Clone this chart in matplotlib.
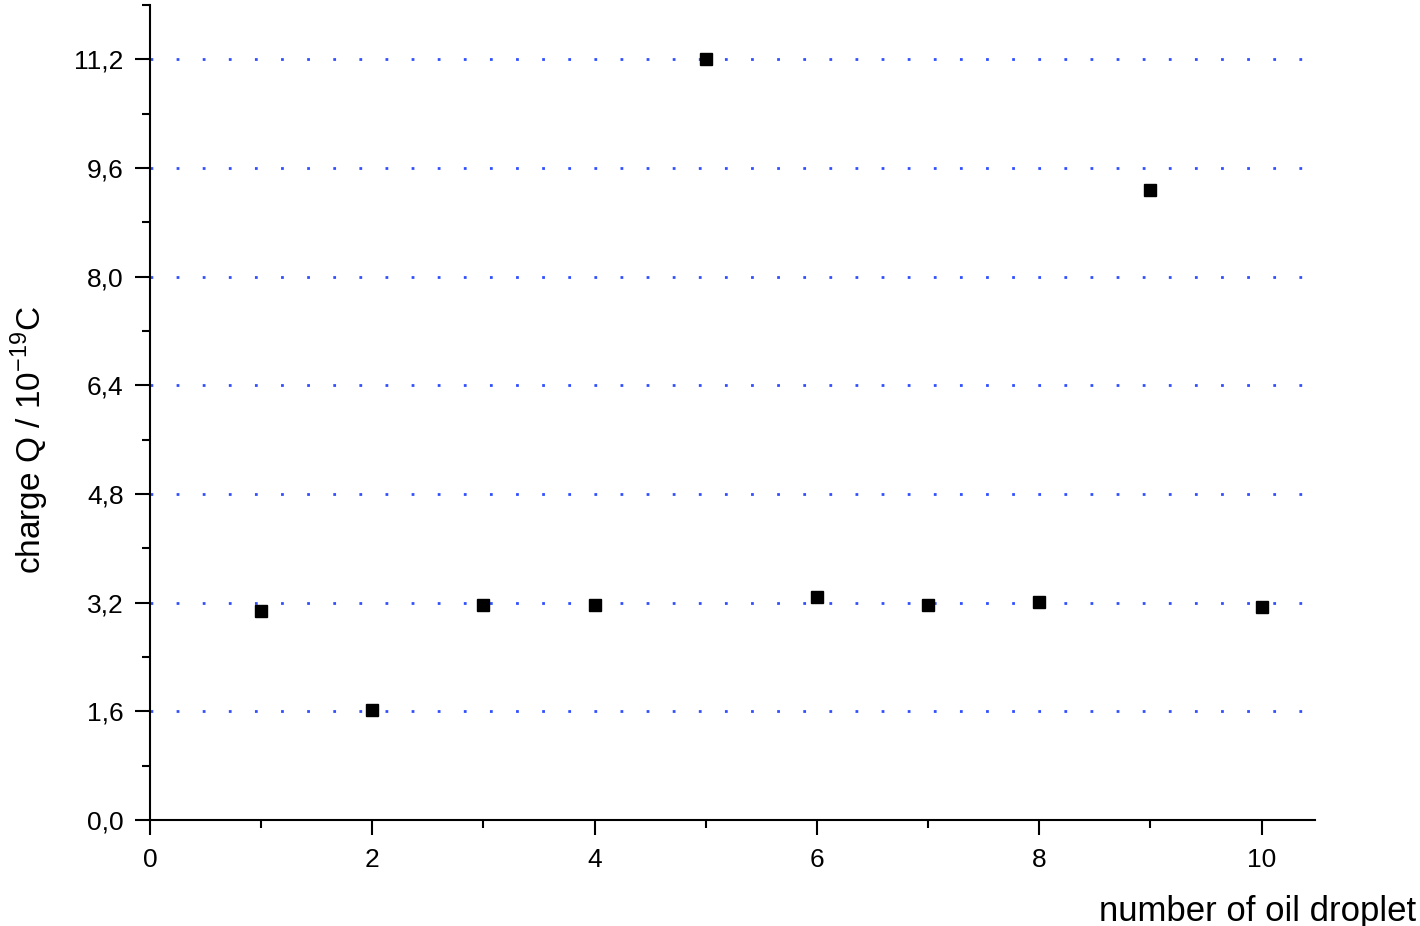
import numpy as np
import matplotlib
matplotlib.use('Agg')
import matplotlib.pyplot as plt
from matplotlib.ticker import MultipleLocator, FuncFormatter

droplet = [1, 2, 3, 4, 5, 6, 7, 8, 9, 10]
charge = [3.08, 1.62, 3.17, 3.17, 11.21, 3.29, 3.17, 3.21, 9.28, 3.14]
y_ticks = [0.0, 1.6, 3.2, 4.8, 6.4, 8.0, 9.6, 11.2]
x_ticks = [0, 2, 4, 6, 8, 10]

plt.rcParams['font.family'] = ['Liberation Sans', 'DejaVu Sans']
plt.rcParams['mathtext.fontset'] = 'custom'
plt.rcParams['mathtext.rm'] = 'Liberation Sans'

fig = plt.figure(figsize=(14.2, 9.26), dpi=100)
ax = fig.add_axes([150/1420, 106/926, 1165/1420, 815/926])

# grid lines at the major charge levels
ax.set_yticks(y_ticks)
ax.grid(axis='y', color='#3050ff', linewidth=2, linestyle=(0, (1, 8.4)))
ax.set_axisbelow(True)

ax.plot(droplet, charge, linestyle='none', marker='s', markersize=9,
        color='black', zorder=3)

ax.set_xlim(0, 10.48)
ax.set_ylim(0, 12)
ax.set_xticks(x_ticks)
ax.xaxis.set_minor_locator(MultipleLocator(1))
ax.yaxis.set_minor_locator(MultipleLocator(0.8))
ax.yaxis.set_major_formatter(FuncFormatter(lambda v, p: ('%.1f' % v).replace('.', ',')))

for s in ['top', 'right']:
    ax.spines[s].set_visible(False)
for s in ['left', 'bottom']:
    ax.spines[s].set_linewidth(1.5)

ax.tick_params(which='major', direction='out', length=11, width=1.5, labelsize=19, pad=8)
ax.tick_params(axis='x', which='major', pad=9)
ax.tick_params(which='minor', direction='out', length=5.5, width=1.5)

ax.set_ylabel(r'charge Q / 10$^{\mathrm{-19}}$C', fontsize=24, va='center')
ax.yaxis.set_label_coords(-0.103, 0.466)
ax.set_xlabel('number of oil droplet', fontsize=25, ha='right', va='center')
ax.xaxis.set_label_coords(1.087, -0.112)

plt.savefig('out.png', dpi=100)
